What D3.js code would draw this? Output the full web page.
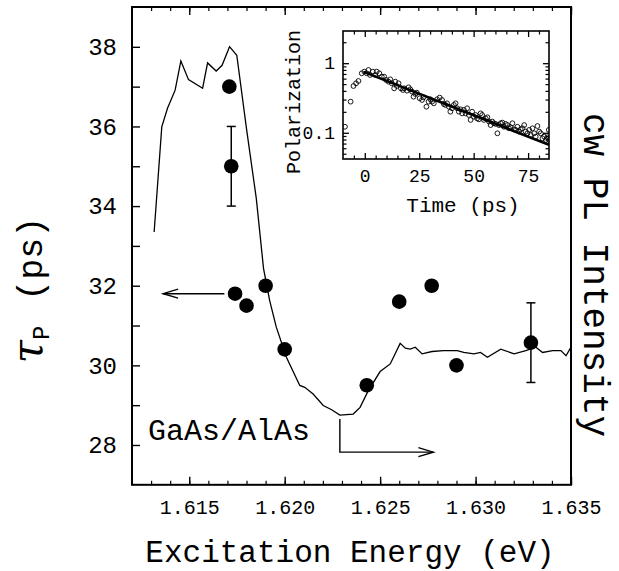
<!DOCTYPE html>
<html>
<head>
<meta charset="utf-8">
<script src="https://cdn.jsdelivr.net/npm/d3@7"></script>
<style>
  html, body { margin: 0; padding: 0; background: #fff; }
  svg { display: block; }
  text { font-family: "Liberation Mono", "DejaVu Sans Mono", monospace; fill: #000; }
</style>
</head>
<body>
<svg id="chart" width="619" height="571"></svg>
<script>
// ---------------- data ----------------
// tau_P measurements
const energy = [1.6171, 1.6172, 1.6174, 1.6180, 1.6190, 1.6200, 1.6243, 1.6260, 1.6277, 1.6290, 1.6329];
const tau    = [37.0, 35.0, 31.8, 31.5, 32.0, 30.4, 29.5, 31.6, 32.0, 30.0, 30.57];
const tauErr = [0, 1.0, 0, 0, 0, 0, 0, 0, 0, 0, 1.0];

// cw PL intensity curve (arbitrary units)
const plEnergy = [1.61316, 1.61356, 1.61386, 1.61426, 1.61456, 1.61496, 1.61570, 1.61596, 1.61641, 1.61672,
  1.61711, 1.61749, 1.61800, 1.61851, 1.61889, 1.61921, 1.61956, 1.62009, 1.62079, 1.62105,
  1.62149, 1.62202, 1.62246, 1.62289, 1.62359, 1.62395, 1.62438, 1.62500, 1.62553, 1.62605,
  1.62632, 1.62658, 1.62684, 1.62720, 1.62772, 1.62833, 1.62904, 1.62938, 1.62991, 1.63026,
  1.63062, 1.63132, 1.63202, 1.63263, 1.63316, 1.63351, 1.63404, 1.63447, 1.63474, 1.63500];
const plIntensity = [0.529, 0.749, 0.788, 0.826, 0.887, 0.848, 0.830, 0.883, 0.866, 0.878,
  0.917, 0.899, 0.745, 0.600, 0.453, 0.386, 0.330, 0.267, 0.208, 0.204,
  0.190, 0.166, 0.157, 0.146, 0.148, 0.162, 0.197, 0.237, 0.253, 0.296,
  0.286, 0.284, 0.288, 0.274, 0.279, 0.281, 0.281, 0.277, 0.274, 0.277,
  0.267, 0.284, 0.274, 0.281, 0.288, 0.277, 0.281, 0.281, 0.270, 0.288];

// inset: polarization vs time
const insetT = [-9.1, -6.5, -5.2, -4.0, -2.9, -1.4, -0.2, 0.9, 1.7, 2.4,
  3.7, 4.8, 5.5, 6.7, 7.8, 8.9, 9.8, 10.9, 11.7, 12.4,
  13.5, 14.0, 14.7, 15.5, 16.6, 17.5, 18.1, 19.4, 20.1, 20.9,
  21.7, 22.4, 23.2, 23.9, 25.2, 26.3, 27.0, 28.3, 29.3, 30.1,
  30.9, 31.7, 33.2, 34.4, 35.5, 36.3, 37.0, 37.8, 38.6, 39.3,
  40.1, 40.9, 41.7, 42.4, 43.2, 44.0, 44.7, 45.5, 46.3, 47.0,
  47.8, 48.6, 49.3, 50.1, 50.9, 51.6, 52.4, 53.2, 53.9, 54.7,
  55.5, 56.3, 57.0, 57.8, 58.5, 59.3, 60.1, 60.9, 61.6, 62.4,
  63.2, 63.9, 64.7, 65.5, 66.2, 67.0, 67.8, 68.5, 69.3, 70.1,
  70.8, 71.6, 72.4, 73.2, 73.9, 74.7, 75.5, 76.2, 77.0, 77.8,
  78.5, 79.3, 80.1, 80.8, 81.6, 82.4, 83.2, 83.9, 84.5, 84.6];
const insetP = [0.122, 0.280, 0.470, 0.514, 0.555, 0.715, 0.756, 0.715, 0.798, 0.677,
  0.756, 0.677, 0.756, 0.715, 0.640, 0.640, 0.574, 0.543, 0.586, 0.514,
  0.435, 0.543, 0.470, 0.514, 0.435, 0.412, 0.435, 0.403, 0.450, 0.421,
  0.390, 0.330, 0.361, 0.377, 0.313, 0.296, 0.323, 0.237, 0.280, 0.303,
  0.280, 0.265, 0.303, 0.320, 0.296, 0.259, 0.251, 0.265, 0.237, 0.201,
  0.225, 0.251, 0.265, 0.225, 0.201, 0.217, 0.190, 0.213, 0.190, 0.225,
  0.180, 0.153, 0.201, 0.170, 0.180, 0.161, 0.156, 0.190, 0.180, 0.153,
  0.161, 0.167, 0.145, 0.129, 0.145, 0.137, 0.134, 0.0983, 0.129, 0.137,
  0.140, 0.122, 0.134, 0.129, 0.116, 0.120, 0.137, 0.112, 0.110, 0.122,
  0.104, 0.112, 0.116, 0.129, 0.104, 0.0983, 0.110, 0.0930, 0.116, 0.0983,
  0.0880, 0.125, 0.104, 0.0983, 0.0833, 0.0880, 0.0788, 0.0861, 0.110, 0.0788];
const fitT = [-0.5, 84.6];
const fitP = [0.75, 0.067];

// tick labels
const xTickValues = [1.615, 1.620, 1.625, 1.630, 1.635];
const yTickValues = [28, 30, 32, 34, 36, 38];
const insetXTicks = [0, 25, 50, 75];
const insetYTicks = [0.1, 1];

// ---------------- drawing ----------------
const svg = d3.select("#chart");
svg.append("rect").attr("width", 619).attr("height", 571).attr("fill", "#fff");

const L = 132, R = 571, T = 7, B = 484.8;
const x = d3.scaleLinear().domain([1.612, 1.635]).range([L, R]);
const y = d3.scaleLinear().domain([27, 39]).range([B, T]);
const pl = d3.scaleLinear().domain([0, 1]).range([B, T]);

function styleAxis(g, w) {
  g.select(".domain").remove();
  g.selectAll(".tick line").attr("stroke", "#000").attr("stroke-width", w);
}

// minor x ticks (bottom & top)
const minorX = d3.range(1613, 1636).map(v => v / 1000);
svg.append("g").attr("transform", `translate(0,${B})`)
  .call(d3.axisBottom(x).tickValues(minorX).tickSize(-4).tickFormat(""))
  .call(g => styleAxis(g, 1.2));
svg.append("g").attr("transform", `translate(0,${T})`)
  .call(d3.axisTop(x).tickValues(minorX).tickSize(-4).tickFormat(""))
  .call(g => styleAxis(g, 1.2));
// major x ticks
svg.append("g").attr("transform", `translate(0,${B})`)
  .call(d3.axisBottom(x).tickValues(xTickValues).tickSize(-8).tickPadding(15).tickFormat(d3.format(".3f")))
  .call(g => styleAxis(g, 1.4))
  .call(g => g.selectAll("text").attr("font-size", 20).attr("font-family", "Liberation Mono"));
svg.append("g").attr("transform", `translate(0,${T})`)
  .call(d3.axisTop(x).tickValues(xTickValues).tickSize(-8).tickFormat(""))
  .call(g => styleAxis(g, 1.4));

// y ticks (every unit), labels on even values
svg.append("g").attr("transform", `translate(${L},0)`)
  .call(d3.axisLeft(y).tickValues(d3.range(28, 39)).tickSize(-8).tickPadding(15)
    .tickFormat(d => yTickValues.includes(d) ? d3.format("d")(d) : ""))
  .call(g => styleAxis(g, 1.4))
  .call(g => g.selectAll("text").attr("font-size", 24).attr("font-family", "Liberation Mono"));

// frame
svg.append("rect").attr("x", L).attr("y", T).attr("width", R - L).attr("height", B - T)
  .attr("fill", "none").attr("stroke", "#000").attr("stroke-width", 2);

// PL curve
svg.append("path")
  .datum(plEnergy.map((e, i) => [e, plIntensity[i]]))
  .attr("fill", "none").attr("stroke", "#000").attr("stroke-width", 1.3)
  .attr("d", d3.line().x(d => x(d[0])).y(d => pl(d[1])));

// error bars
const pts = energy.map((e, i) => ({ e, t: tau[i], err: tauErr[i] }));
const eb = svg.append("g").attr("stroke", "#000").attr("stroke-width", 1.5);
pts.filter(d => d.err > 0).forEach(d => {
  eb.append("line").attr("x1", x(d.e)).attr("x2", x(d.e)).attr("y1", y(d.t - d.err)).attr("y2", y(d.t + d.err));
  [d.t - d.err, d.t + d.err].forEach(v => {
    eb.append("line").attr("x1", x(d.e) - 4.5).attr("x2", x(d.e) + 4.5).attr("y1", y(v)).attr("y2", y(v));
  });
});
// dots
svg.append("g").selectAll("circle").data(pts).join("circle")
  .attr("cx", d => x(d.e)).attr("cy", d => y(d.t)).attr("r", 7.3).attr("fill", "#000");

// arrows
const arrowG = svg.append("g").attr("stroke", "#000").attr("stroke-width", 1.4).attr("fill", "none");
const ay = y(31.8);
arrowG.append("line").attr("x1", x(1.61684)).attr("x2", x(1.61363)).attr("y1", ay).attr("y2", ay);
arrowG.append("path").attr("d", `M${x(1.61363) + 15},${ay - 4.5} L${x(1.61363)},${ay} L${x(1.61363) + 15},${ay + 4.5}`);
const bx = x(1.62289), by = y(27.82), bx2 = x(1.62779);
arrowG.append("path").attr("d", `M${bx},${y(28.65)} L${bx},${by} L${bx2},${by}`);
arrowG.append("path").attr("d", `M${bx2 - 15},${by - 4.5} L${bx2},${by} L${bx2 - 15},${by + 4.5}`);

// sample label
svg.append("text").attr("x", x(1.61284)).attr("y", y(28.13)).attr("font-size", 30).text("GaAs/AlAs");

// axis titles
svg.append("text").attr("x", 350).attr("y", 562).attr("text-anchor", "middle").attr("font-size", 31)
  .text("Excitation Energy (eV)");
const yt = svg.append("text").attr("transform", "translate(42,290) rotate(-90)").attr("text-anchor", "middle");
yt.append("tspan").attr("font-size", 42).attr("font-family", "DejaVu Serif").attr("font-style", "italic").text("τ");
yt.append("tspan").attr("font-size", 24).attr("dy", 7).text("P");
yt.append("tspan").attr("font-size", 35).attr("dy", -7).attr("dx", 4).text(" (ps)");
svg.append("text").attr("transform", "translate(584,275) rotate(90)").attr("text-anchor", "middle")
  .attr("font-size", 36).text("cw PL Intensity");

// ---------------- inset ----------------
const iL = 343, iR = 549, iT = 31, iB = 159;
const ix = d3.scaleLinear().domain([-10, 84.6]).range([iL, iR]);
const iy = d3.scaleLog().domain([0.042, 2.9]).range([iB, iT]);

const iMinorX = d3.range(-5, 85, 5).filter(v => !insetXTicks.includes(v));
const iMinorY = [0.05, 0.06, 0.07, 0.08, 0.09, 0.2, 0.3, 0.4, 0.5, 0.6, 0.7, 0.8, 0.9, 2];
[[d3.axisBottom, iB], [d3.axisTop, iT]].forEach(([ax, pos]) => {
  svg.append("g").attr("transform", `translate(0,${pos})`)
    .call(ax(ix).tickValues(iMinorX).tickSize(-3.5).tickFormat(""))
    .call(g => styleAxis(g, 1.2));
  svg.append("g").attr("transform", `translate(0,${pos})`)
    .call(ax(ix).tickValues(insetXTicks).tickSize(-6).tickPadding(10)
      .tickFormat(pos === iB ? d3.format("d") : ""))
    .call(g => styleAxis(g, 1.3))
    .call(g => g.selectAll("text").attr("font-size", 18).attr("font-family", "Liberation Mono"));
});
[[d3.axisLeft, iL], [d3.axisRight, iR]].forEach(([ax, pos]) => {
  svg.append("g").attr("transform", `translate(${pos},0)`)
    .call(ax(iy).tickValues(iMinorY).tickSize(-3.5).tickFormat(""))
    .call(g => styleAxis(g, 1.2));
  svg.append("g").attr("transform", `translate(${pos},0)`)
    .call(ax(iy).tickValues(insetYTicks).tickSize(-6).tickPadding(8)
      .tickFormat(pos === iL ? (d => d === 1 ? "1" : "0.1") : ""))
    .call(g => styleAxis(g, 1.3))
    .call(g => g.selectAll("text").attr("font-size", 18).attr("font-family", "Liberation Mono"));
});
svg.append("rect").attr("x", iL).attr("y", iT).attr("width", iR - iL).attr("height", iB - iT)
  .attr("fill", "none").attr("stroke", "#000").attr("stroke-width", 1.6);

svg.append("clipPath").attr("id", "iclip").append("rect")
  .attr("x", iL).attr("y", iT).attr("width", iR - iL).attr("height", iB - iT);
const ig = svg.append("g").attr("clip-path", "url(#iclip)");
ig.selectAll("circle").data(insetT.map((t, i) => [t, insetP[i]])).join("circle")
  .attr("cx", d => ix(d[0])).attr("cy", d => iy(d[1])).attr("r", 2.4)
  .attr("fill", "none").attr("stroke", "#000").attr("stroke-width", 0.9);
ig.append("path").datum(fitT.map((t, i) => [t, fitP[i]]))
  .attr("fill", "none").attr("stroke", "#000").attr("stroke-width", 2.6)
  .attr("d", d3.line().x(d => ix(d[0])).y(d => iy(d[1])));

svg.append("text").attr("x", 463).attr("y", 212).attr("text-anchor", "middle").attr("font-size", 21).text("Time (ps)");
svg.append("text").attr("transform", "translate(300,102) rotate(-90)").attr("text-anchor", "middle")
  .attr("font-size", 20).text("Polarization");
</script>
</body>
</html>
